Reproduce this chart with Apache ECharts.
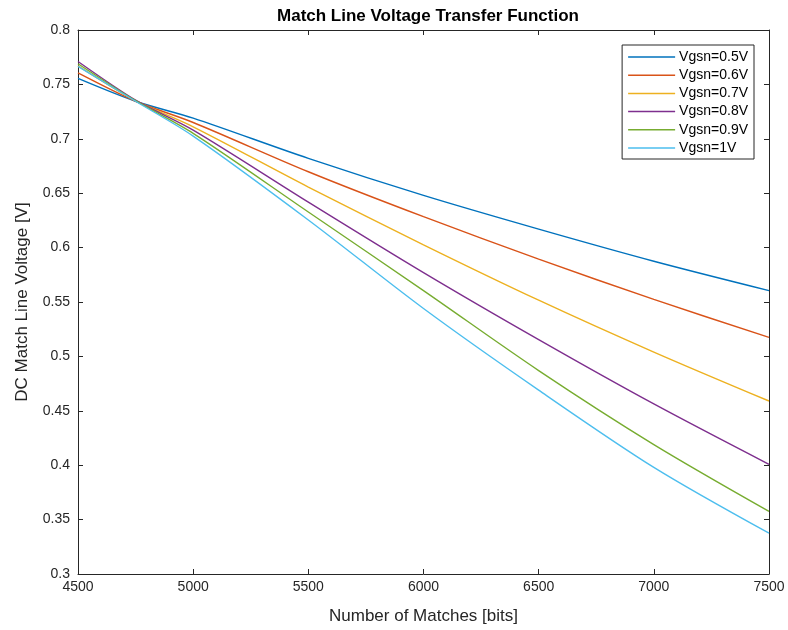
<!DOCTYPE html>
<html>
<head>
<meta charset="utf-8">
<script src="https://cdn.jsdelivr.net/npm/echarts@6/dist/echarts.min.js"></script>
<style>
  html, body { margin: 0; padding: 0; background: #fff; }
  #chart-container { width: 788px; height: 630px; }
</style>
</head>
<body>
<div id="chart-container"></div>
<script>
'use strict';

const matches = [4500, 4750, 5000, 5500, 6000, 6500, 7000, 7500];
const seriesNames = ['Vgsn=0.5V', 'Vgsn=0.6V', 'Vgsn=0.7V', 'Vgsn=0.8V', 'Vgsn=0.9V', 'Vgsn=1V'];

const vgsn05 = [0.7555, 0.7345, 0.7190, 0.6820, 0.6480, 0.6170, 0.5875, 0.5605];
const vgsn06 = [0.7605, 0.7345, 0.7150, 0.6697, 0.6284, 0.5894, 0.5524, 0.5175];
const vgsn07 = [0.7670, 0.7350, 0.7110, 0.6556, 0.6026, 0.5517, 0.5040, 0.4590];
const vgsn08 = [0.7710, 0.7355, 0.7080, 0.6418, 0.5770, 0.5154, 0.4563, 0.4008];
const vgsn09 = [0.7690, 0.7350, 0.7050, 0.6327, 0.5605, 0.4870, 0.4190, 0.3576];
const vgsn10 = [0.7665, 0.7345, 0.7025, 0.6254, 0.5440, 0.4690, 0.3980, 0.3375];

const colors = ['#0072BD', '#D95319', '#EDB120', '#7E2F8E', '#77AC30', '#4DBEEE'];
const allValues = [vgsn05, vgsn06, vgsn07, vgsn08, vgsn09, vgsn10];

const axisColor = '#262626';
const font = '"Liberation Sans", Arial, sans-serif';

let myChart = echarts.init(
    document.getElementById('chart-container'),
    null,
    { renderer: 'canvas' }
);

const series = allValues.map((vals, i) => ({
    name: seriesNames[i],
    type: 'line',
    xAxisIndex: 0,
    yAxisIndex: 0,
    symbol: 'none',
    smooth: 0.3,
    data: vals.map((v, j) => [matches[j], v]),
    lineStyle: { color: colors[i], width: 1.4 },
    itemStyle: { color: colors[i] }
}));

const option = {
    backgroundColor: '#fff',
    animation: false,
    title: {
        text: 'Match Line Voltage Transfer Function',
        left: 423,
        textAlign: 'center',
        top: 3,
        textStyle: { fontFamily: font, fontSize: 17, fontWeight: 'bold', color: '#000' }
    },
    legend: {
        orient: 'vertical',
        right: 34,
        top: 45,
        icon: 'rect',
        itemWidth: 47,
        itemHeight: 1.5,
        itemGap: 2.2,
        padding: [4, 6, 3, 6],
        borderColor: axisColor,
        borderWidth: 1,
        backgroundColor: '#fff',
        textStyle: { fontFamily: font, fontSize: 14, lineHeight: 16, color: '#000', padding: [0, 0, 0, -1] },
        data: seriesNames
    },
    grid: { left: 78, right: 19, top: 30, bottom: 53, containLabel: false },
    xAxis: [
        {
            type: 'value',
            min: 4500,
            max: 7500,
            interval: 500,
            name: 'Number of Matches [bits]',
            nameLocation: 'middle',
            nameGap: 34,
            nameTextStyle: { fontFamily: font, fontSize: 17, color: axisColor },
            axisLine: { lineStyle: { color: axisColor, width: 1 } },
            axisTick: { inside: true, length: 5, lineStyle: { color: axisColor } },
            axisLabel: { fontFamily: font, fontSize: 14, color: axisColor, margin: 6, formatter: v => String(v) },
            splitLine: { show: false }
        },
        {
            type: 'value',
            position: 'top',
            min: 4500,
            max: 7500,
            interval: 500,
            axisLine: { lineStyle: { color: axisColor, width: 1 } },
            axisTick: { inside: true, length: 5, lineStyle: { color: axisColor } },
            axisLabel: { show: false },
            splitLine: { show: false }
        }
    ],
    yAxis: [
        {
            type: 'value',
            min: 0.3,
            max: 0.8,
            interval: 0.05,
            name: 'DC Match Line Voltage [V]',
            nameLocation: 'middle',
            nameGap: 47,
            nameTextStyle: { fontFamily: font, fontSize: 17, color: axisColor },
            axisLine: { show: true, lineStyle: { color: axisColor, width: 1 } },
            axisTick: { show: true, inside: true, length: 5, lineStyle: { color: axisColor } },
            axisLabel: { fontFamily: font, fontSize: 14, color: axisColor, margin: 8 },
            splitLine: { show: false }
        },
        {
            type: 'value',
            position: 'right',
            min: 0.3,
            max: 0.8,
            interval: 0.05,
            axisLine: { show: true, lineStyle: { color: axisColor, width: 1 } },
            axisTick: { show: true, inside: true, length: 5, lineStyle: { color: axisColor } },
            axisLabel: { show: false },
            splitLine: { show: false }
        }
    ],
    series: series
};
myChart.setOption(option);

window.addEventListener('resize', myChart.resize);
</script>
</body>
</html>
